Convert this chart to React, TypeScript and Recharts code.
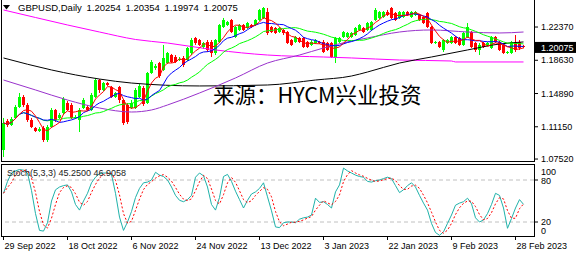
import { ComposedChart, Bar, Line, XAxis, YAxis, ReferenceLine } from 'recharts';

// GBPUSD daily candles, 29 Sep 2022 .. 2 Mar 2023 (broker with Sunday bars)
const opens = [
  1.0854, 1.1180, 1.1135, 1.1214, 1.1337, 1.1450, 1.1360, 1.1191, 1.1101, 1.1067,
  1.1101, 1.0966, 1.1112, 1.1304, 1.1214, 1.1270, 1.1382, 1.1360, 1.1214, 1.1191,
  1.1326, 1.1337, 1.1304, 1.1450, 1.1641, 1.1529, 1.1607, 1.1562, 1.1450, 1.1562,
  1.1416, 1.1360, 1.1326, 1.1326, 1.1450, 1.1551, 1.1382, 1.1720, 1.1776, 1.1832,
  1.1754, 1.1832, 1.1922, 1.1900, 1.1877, 1.1889, 1.1866, 1.1945, 1.2114, 1.2091,
  1.2012, 1.2069, 1.2069, 1.1945, 1.2069, 1.2237, 1.2260, 1.2316, 1.2125, 1.2204,
  1.2260, 1.2226, 1.2260, 1.2260, 1.2316, 1.2339, 1.2406, 1.2237, 1.2226, 1.2181,
  1.2204, 1.2181, 1.2091, 1.2069, 1.2114, 1.2114, 1.2069, 1.2035, 1.2057, 1.2069,
  1.2069, 1.2057, 1.2057, 1.1889, 1.2069, 1.2125, 1.2125, 1.2125, 1.2147, 1.2204,
  1.2226, 1.2204, 1.2204, 1.2316, 1.2339, 1.2350, 1.2406, 1.2451, 1.2395, 1.2339,
  1.2350, 1.2406, 1.2350, 1.2372, 1.2372, 1.2350, 1.2395, 1.2237, 1.2057, 1.2069,
  1.1979, 1.2057, 1.2057, 1.2125, 1.2114, 1.2035, 1.2125, 1.2181, 1.2057, 1.1979,
  1.2057, 1.2035, 1.2001, 1.2125, 1.2069, 1.2035, 1.1945, 1.1945, 1.2069, 1.2069,
  1.20254,
];
const highs = [
  1.1214, 1.1202, 1.1225, 1.1360, 1.1495, 1.1472, 1.1382, 1.1214, 1.1112, 1.1112,
  1.1124, 1.1135, 1.1326, 1.1315, 1.1270, 1.1450, 1.1405, 1.1382, 1.1247, 1.1326,
  1.1439, 1.1360, 1.1495, 1.1664, 1.1652, 1.1619, 1.1619, 1.1574, 1.1506, 1.1574,
  1.1427, 1.1382, 1.1416, 1.1551, 1.1596, 1.1574, 1.1731, 1.1866, 1.1821, 1.1844,
  1.2035, 1.1956, 1.1934, 1.1922, 1.1900, 1.1911, 1.2012, 1.2114, 1.2125, 1.2102,
  1.2069, 1.2091, 1.2091, 1.2102, 1.2271, 1.2339, 1.2305, 1.2327, 1.2249, 1.2271,
  1.2271, 1.2294, 1.2271, 1.2327, 1.2440, 1.2462, 1.2451, 1.2249, 1.2237, 1.2237,
  1.2215, 1.2192, 1.2102, 1.2136, 1.2125, 1.2125, 1.2080, 1.2091, 1.2102, 1.2080,
  1.2091, 1.2069, 1.2069, 1.2125, 1.2125, 1.2192, 1.2181, 1.2181, 1.2237, 1.2271,
  1.2237, 1.2294, 1.2305, 1.2451, 1.2417, 1.2417, 1.2429, 1.2462, 1.2406, 1.2417,
  1.2417, 1.2417, 1.2417, 1.2417, 1.2384, 1.2361, 1.2406, 1.2249, 1.2080, 1.2080,
  1.2102, 1.2102, 1.2136, 1.2136, 1.2125, 1.2181, 1.2282, 1.2192, 1.2069, 1.2057,
  1.2069, 1.2069, 1.2136, 1.2136, 1.2080, 1.2046, 1.1967, 1.2080, 1.2147, 1.2091,
  1.20354,
];
const lows = [
  1.0775, 1.1112, 1.1124, 1.1202, 1.1326, 1.1337, 1.1169, 1.1101, 1.1056, 1.1056,
  1.0944, 1.0944, 1.1101, 1.1169, 1.1202, 1.1247, 1.1292, 1.1202, 1.1202, 1.1056,
  1.1315, 1.1292, 1.1292, 1.1439, 1.1495, 1.1517, 1.1574, 1.1439, 1.1439, 1.1382,
  1.1135, 1.1146, 1.1315, 1.1315, 1.1439, 1.1349, 1.1371, 1.1709, 1.1754, 1.1664,
  1.1742, 1.1821, 1.1832, 1.1832, 1.1855, 1.1787, 1.1855, 1.1922, 1.2035, 1.2024,
  1.1990, 1.1956, 1.1900, 1.1922, 1.2057, 1.2226, 1.2249, 1.2170, 1.2114, 1.2192,
  1.2192, 1.2215, 1.2226, 1.2249, 1.2305, 1.2327, 1.2147, 1.2170, 1.2159, 1.2170,
  1.2147, 1.2046, 1.2024, 1.2057, 1.2057, 1.2001, 1.2001, 1.2024, 1.2046, 1.2046,
  1.1945, 1.1967, 1.1889, 1.1832, 1.2057, 1.2114, 1.2114, 1.2114, 1.2136, 1.2192,
  1.2170, 1.2192, 1.2192, 1.2305, 1.2327, 1.2339, 1.2361, 1.2327, 1.2305, 1.2327,
  1.2339, 1.2361, 1.2339, 1.2361, 1.2305, 1.2271, 1.2226, 1.2046, 1.2046, 1.2001,
  1.1956, 1.2046, 1.2046, 1.2046, 1.2024, 1.2024, 1.2114, 1.2001, 1.1956, 1.1922,
  1.2001, 1.2024, 1.1990, 1.2057, 1.1967, 1.1934, 1.1934, 1.1934, 1.1956, 1.1979,
  1.19974,
];
const closes = [
  1.1157, 1.1135, 1.1202, 1.1337, 1.1450, 1.1360, 1.1191, 1.1112, 1.1067, 1.1090,
  1.0966, 1.1112, 1.1304, 1.1191, 1.1247, 1.1427, 1.1304, 1.1214, 1.1225, 1.1304,
  1.1416, 1.1304, 1.1472, 1.1641, 1.1529, 1.1607, 1.1585, 1.1450, 1.1495, 1.1416,
  1.1157, 1.1169, 1.1382, 1.1529, 1.1574, 1.1371, 1.1720, 1.1844, 1.1799, 1.1686,
  1.1889, 1.1945, 1.1844, 1.1844, 1.1880, 1.1810, 1.2001, 1.2091, 1.2057, 1.2035,
  1.2057, 1.1979, 1.1945, 1.2091, 1.2260, 1.2316, 1.2294, 1.2181, 1.2237, 1.2260,
  1.2204, 1.2282, 1.2237, 1.2316, 1.2429, 1.2451, 1.2170, 1.2181, 1.2170, 1.2226,
  1.2170, 1.2057, 1.2035, 1.2125, 1.2069, 1.2012, 1.2012, 1.2069, 1.2091, 1.2057,
  1.1956, 1.1979, 1.1900, 1.2114, 1.2114, 1.2181, 1.2170, 1.2170, 1.2226, 1.2260,
  1.2181, 1.2282, 1.2294, 1.2429, 1.2406, 1.2406, 1.2372, 1.2339, 1.2316, 1.2406,
  1.2406, 1.2372, 1.2406, 1.2406, 1.2316, 1.2282, 1.2237, 1.2057, 1.2069, 1.2012,
  1.2091, 1.2091, 1.2125, 1.2057, 1.2035, 1.2170, 1.2237, 1.2012, 1.1979, 1.2035,
  1.2012, 1.2057, 1.2125, 1.2069, 1.1979, 1.1945, 1.1956, 1.2069, 1.1979, 1.2001,
  1.20075,
];

// long moving averages at a few bars: [bar, price]
const purpleMa = [
  [0, 1.1641], [8, 1.1529], [16, 1.1416], [24, 1.1326], [32, 1.1281], [37, 1.1304],
  [41, 1.1360], [49, 1.1495], [58, 1.1664], [66, 1.1832], [74, 1.1922], [80, 1.2001],
  [87, 1.2080], [91, 1.2114], [99, 1.2181], [107, 1.2204], [116, 1.2181], [124, 1.2170],
  [130, 1.2181],
];
const blackMa = [
  [0, 1.1889], [12, 1.1754], [24, 1.1652], [32, 1.1607], [49, 1.1574], [66, 1.1585],
  [78, 1.1641], [87, 1.1686], [91, 1.1731], [99, 1.1832], [107, 1.1900], [116, 1.1979],
  [124, 1.2046], [130, 1.2069],
];
const magentaMa = [
  [0, 1.2429], [8, 1.2344], [16, 1.2260], [24, 1.2181], [33, 1.2097], [41, 1.2057],
  [53, 1.1979], [66, 1.1922], [80, 1.1900], [87, 1.1889], [99, 1.1866], [112, 1.1855],
  [113, 1.1844], [130, 1.1844],
];

// Stoch(5,3,3) main line
const stochK = [
  61, 78, 90, 93, 95, 94, 90, 65, 32, 8,
  7, 19, 50, 66, 70, 72, 73, 63, 45, 37,
  50, 61, 76, 84, 89, 90, 90, 88, 61, 27,
  8, 20, 35, 55, 68, 76, 77, 80, 91, 87,
  85, 80, 70, 58, 51, 49, 52, 58, 84, 90,
  86, 70, 45, 37, 55, 85, 88, 78, 64, 52,
  40, 51, 60, 63, 68, 76, 56, 36, 13, 12,
  19, 20, 20, 19, 24, 26, 27, 30, 54, 48,
  49, 45, 40, 63, 73, 97, 93, 90, 87, 85,
  84, 78, 77, 79, 80, 82, 84, 82, 72, 62,
  66, 72, 76, 70, 58, 47, 37, 18, 5, 1,
  6, 18, 30, 44, 47, 49, 54, 46, 26, 20,
  23, 32, 45, 61, 58, 40, 11, 25, 40, 52,
  45.25,
];

const priceTicks = [1.0752, 1.1115, 1.1489, 1.1863, 1.2237, 1.20075];
const lastPrice = 1.20075;
const dateTicks = [0, 16, 32, 48, 64, 80, 96, 112, 128];
const dateLabels = ['29 Sep 2022', '18 Oct 2022', '6 Nov 2022', '24 Nov 2022', '13 Dec 2022', '3 Jan 2023', '22 Jan 2023', '9 Feb 2023', '28 Feb 2023'];

const sma = (arr: number[], n: number, i: number) => {
  const s = arr.slice(Math.max(0, i - n + 1), i + 1);
  return s.reduce((a, b) => a + b, 0) / s.length;
};
const at = (pts: number[][], i: number) => {
  const p = pts.find((q) => q[0] === i);
  return p ? p[1] : null;
};

const rows = closes.map((c, i) => ({
  i,
  open: opens[i],
  high: highs[i],
  low: lows[i],
  close: c,
  range: [lows[i], highs[i]],
  ma5: sma(closes, 5, i),
  ma10: sma(closes, 10, i),
  ma20: sma(closes, 20, i),
  purple: at(purpleMa, i),
  black: at(blackMa, i),
  magenta: at(magentaMa, i),
}));

const stochRows = stochK.map((k, i) => ({ i, k, d: sma(stochK, 3, i) }));

const FONT = '"Liberation Sans", Arial, sans-serif';
const X_DOMAIN = [-0.375, 132.625];

const Candle = (props: any) => {
  const { x, y, width, height, payload } = props;
  if (height == null || isNaN(y)) return null;
  const { open, close, high, low } = payload;
  const up = close >= open;
  const color = up ? '#00FF00' : '#FF0000';
  const cx = Math.round(x + width / 2 - 0.5) + 0.5;
  const span = high - low || 1;
  const top = Math.round(y + ((high - Math.max(open, close)) / span) * height);
  let bot = Math.round(y + ((high - Math.min(open, close)) / span) * height);
  if (bot - top < 1) bot = top + 1;
  return (
    <g>
      <line x1={cx} x2={cx} y1={y} y2={y + height} stroke={color} strokeWidth={1} />
      <rect x={cx - 1.5} y={top} width={3} height={bot - top} fill={color} />
    </g>
  );
};

const PriceTick = (props: any) => {
  const { x, y, payload } = props;
  const v = payload.value;
  const label = v.toFixed(5);
  if (v === lastPrice) {
    return (
      <g>
        <rect x={x + 1} y={y - 5.5} width={41} height={11} fill="#000" />
        <text x={x + 7} y={y} dy={3.2} fill="#fff" fontSize={9} fontFamily={FONT}>{label}</text>
      </g>
    );
  }
  return (
    <g>
      <line x1={x} x2={x + 4} y1={y} y2={y} stroke="#000" />
      <text x={x + 7} y={y} dy={3.2} fill="#000" fontSize={9} fontFamily={FONT}>{label}</text>
    </g>
  );
};

const StochTick = (props: any) => {
  const { x, y, payload } = props;
  const v = payload.value;
  const shift = v === 100 ? 6 : v === 0 ? -5 : v === 80 ? 1 : 0;
  return (
    <g>
      {(v === 80 || v === 20) && <line x1={x} x2={x + 4} y1={y} y2={y} stroke="#000" />}
      <text x={x + 7} y={y + shift} dy={3.2} fill="#000" fontSize={9} fontFamily={FONT}>{v}</text>
    </g>
  );
};

const DateTick = (props: any) => {
  const { x, y, payload } = props;
  const idx = dateTicks.indexOf(payload.value);
  return (
    <g>
      <line x1={Math.round(x) - 0.5} x2={Math.round(x) - 0.5} y1={y} y2={y + 4} stroke="#000" />
      <text x={x + 1} y={y + 13} fill="#000" fontSize={9} fontFamily={FONT}>{dateLabels[idx]}</text>
    </g>
  );
};

const hLine = (left: number, top: number, width: number) => (
  <div style={{ position: 'absolute', left, top, width, height: 1, background: '#000' }} />
);
const vLine = (left: number, top: number, height: number) => (
  <div style={{ position: 'absolute', left, top, width: 1, height, background: '#000' }} />
);

export default function App() {
  return (
    <div style={{ position: 'fixed', left: 0, top: 0, width: 582, height: 260, background: '#fff', overflow: 'hidden', fontFamily: FONT }}>
      <div style={{ position: 'absolute', left: 0, top: 165 }}>
        <ComposedChart width={582} height={95} data={stochRows} margin={{ top: 1, right: 0, bottom: 0, left: 2 }}>
          <XAxis
            type="number"
            dataKey="i"
            domain={X_DOMAIN}
            allowDataOverflow
            ticks={dateTicks}
            interval={0}
            height={24}
            axisLine={false}
            tickLine={false}
            tickSize={0}
            tickMargin={0}
            tick={<DateTick />}
          />
          <YAxis
            orientation="right"
            width={48}
            domain={[0, 100]}
            ticks={[0, 20, 80, 100]}
            interval={0}
            axisLine={false}
            tickLine={false}
            tickSize={0}
            tickMargin={0}
            tick={<StochTick />}
          />
          <ReferenceLine y={80} stroke="#C0C0C0" strokeDasharray="4 3" />
          <ReferenceLine y={20} stroke="#C0C0C0" strokeDasharray="4 3" />
          <Line dataKey="k" type="linear" stroke="#20B2AA" strokeWidth={1} dot={false} isAnimationActive={false} />
          <Line dataKey="d" type="linear" stroke="#FF0000" strokeWidth={1} strokeDasharray="2 2" dot={false} isAnimationActive={false} />
        </ComposedChart>
      </div>

      <div style={{ position: 'absolute', left: 0, top: 0 }}>
        <ComposedChart width={582} height={167} data={rows} margin={{ top: 0, right: 0, bottom: 6, left: 2 }} style={{ overflow: 'visible' }}>
          <XAxis type="number" dataKey="i" domain={X_DOMAIN} hide allowDataOverflow />
          <YAxis
            orientation="right"
            width={48}
            domain={[1.073, 1.2541]}
            allowDataOverflow
            ticks={priceTicks}
            interval={0}
            axisLine={false}
            tickLine={false}
            tickSize={0}
            tickMargin={0}
            tick={<PriceTick />}
          />
          <Bar dataKey="range" barSize={3} shape={(p: any) => <Candle {...p} />} isAnimationActive={false} />
          <Line dataKey="magenta" type="monotone" stroke="#FF00FF" strokeWidth={1} dot={false} connectNulls isAnimationActive={false} />
          <Line dataKey="black" type="monotone" stroke="#000000" strokeWidth={1} dot={false} connectNulls isAnimationActive={false} />
          <Line dataKey="purple" type="monotone" stroke="#9932CC" strokeWidth={1} dot={false} connectNulls isAnimationActive={false} />
          <Line dataKey="ma20" type="linear" stroke="#00FF00" strokeWidth={1} dot={false} isAnimationActive={false} />
          <Line dataKey="ma10" type="linear" stroke="#0000FF" strokeWidth={1} dot={false} isAnimationActive={false} />
          <Line dataKey="ma5" type="linear" stroke="#FF0000" strokeWidth={1} dot={false} isAnimationActive={false} />
        </ComposedChart>
      </div>

      {/* frames */}
      {vLine(1, 0, 162)}
      {vLine(534, 0, 162)}
      {hLine(1, 161, 534)}
      {hLine(1, 164, 534)}
      {vLine(1, 164, 73)}
      {vLine(534, 164, 73)}
      {hLine(1, 236, 534)}

      {/* header */}
      <svg style={{ position: 'absolute', left: 3, top: 5 }} width={8} height={5}>
        <polygon points="0,0 7,0 3.5,4.5" fill="#000" />
      </svg>
      <div style={{ position: 'absolute', left: 18, top: 3, fontSize: 9.5, lineHeight: '10px', color: '#000', whiteSpace: 'nowrap', wordSpacing: 2 }}>
        GBPUSD,Daily 1.20254 1.20354 1.19974 1.20075
      </div>
      <div style={{ position: 'absolute', left: 7, top: 168, fontSize: 9, lineHeight: '10px', color: '#222', whiteSpace: 'nowrap' }}>
        Stoch(5,3,3) 45.2500 46.9058
      </div>

      {/* watermark */}
      <div style={{ position: 'absolute', left: 213, top: 82, fontSize: 21.5, lineHeight: '24px', color: '#000', whiteSpace: 'nowrap', fontFamily: '"Noto Sans CJK SC", sans-serif' }}>
        来源：HYCM兴业投资
      </div>
    </div>
  );
}
